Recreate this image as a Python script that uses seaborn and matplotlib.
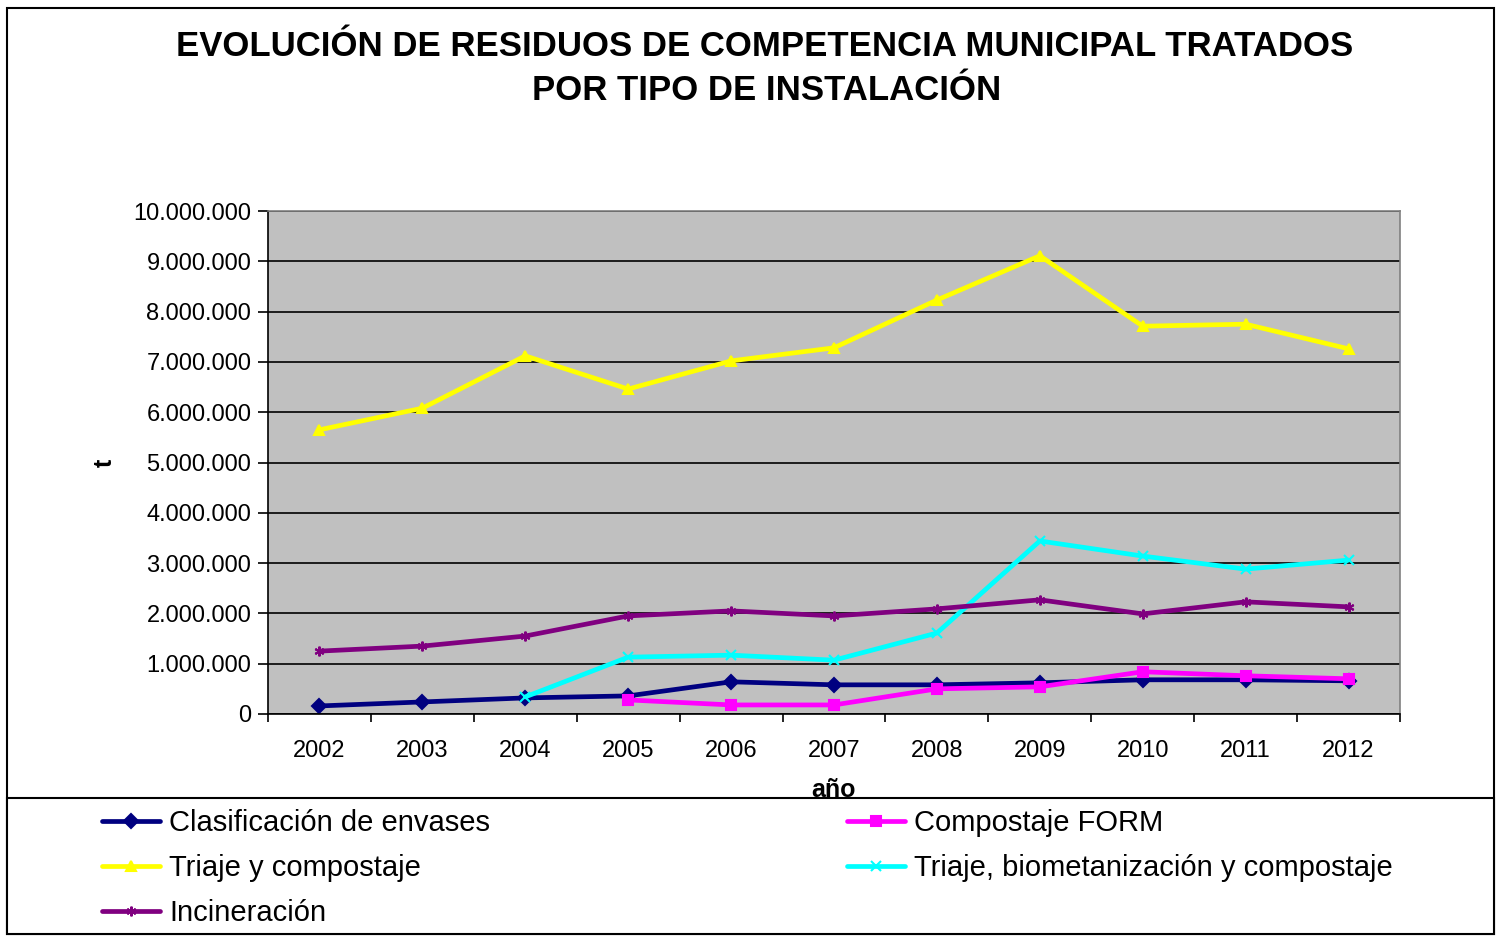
# Evolution of municipal waste treated by facility type
import matplotlib
matplotlib.use('Agg')
import matplotlib.pyplot as plt
import matplotlib.patches as patches
from matplotlib.ticker import FuncFormatter, FixedLocator
import pandas as pd
import seaborn as sns
import numpy as np

# data (tonnes)
years = [2002, 2003, 2004, 2005, 2006, 2007, 2008, 2009, 2010, 2011, 2012]
clasificacion = [160000, 240000, 320000, 360000, 640000, 580000, 580000, 620000, 680000, 680000, 660000]
compostaje_form = [None, None, None, 280000, 180000, 180000, 500000, 540000, 840000, 760000, 700000]
triaje_compostaje = [5650000, 6080000, 7120000, 6460000, 7020000, 7280000, 8230000, 9110000, 7710000, 7750000, 7260000]
triaje_biomet = [None, None, 340000, 1130000, 1170000, 1070000, 1610000, 3440000, 3140000, 2880000, 3060000]
incineracion = [1250000, 1350000, 1550000, 1950000, 2050000, 1950000, 2090000, 2270000, 1990000, 2230000, 2130000]

series_names = ['Clasificación de envases', 'Compostaje FORM', 'Triaje y compostaje',
                'Triaje, biometanización y compostaje', 'Incineración']
series_values = [clasificacion, compostaje_form, triaje_compostaje, triaje_biomet, incineracion]
palette = {'Clasificación de envases': '#000080',
           'Compostaje FORM': '#FF00FF',
           'Triaje y compostaje': '#FFFF00',
           'Triaje, biometanización y compostaje': '#00FFFF',
           'Incineración': '#800080'}
markers = {'Clasificación de envases': 'D',
           'Compostaje FORM': 's',
           'Triaje y compostaje': '^',
           'Triaje, biometanización y compostaje': 'x',
           'Incineración': (6, 2, 0)}

# long-form table, categorical x position from year index
rows = []
for name, vals in zip(series_names, series_values):
    for i, (yr, v) in enumerate(zip(years, vals)):
        if v is not None:
            rows.append({'pos': i, 'año': yr, 'Serie': name, 't': v})
df = pd.DataFrame(rows)

sns.set_style('white')
plt.rcParams['font.family'] = ['Liberation Sans', 'DejaVu Sans']
plt.rcParams['text.color'] = 'black'
plt.rcParams['axes.labelcolor'] = 'black'
plt.rcParams['xtick.color'] = 'black'
plt.rcParams['ytick.color'] = 'black'

fig = plt.figure(figsize=(15.05, 9.36), dpi=100)
ax = fig.add_axes([268 / 1505, 1 - 714 / 936, (1400 - 268) / 1505, (714 - 211) / 936])
ax.set_facecolor('#C0C0C0')

for name in series_names:
    sub = df[df['Serie'] == name]
    sns.lineplot(data=sub, x='pos', y='t', color=palette[name], marker=markers[name],
                 markersize=7, markeredgecolor=palette[name], markeredgewidth=1.5,
                 linewidth=3.4, ax=ax, label=name, legend=False, errorbar=None)

ax.set_xlim(-0.5, len(years) - 0.5)
ax.set_ylim(0, 10000000)
ax.set_yticks(np.arange(0, 10000001, 1000000))
ax.yaxis.set_major_formatter(FuncFormatter(lambda v, p: f'{int(v):,}'.replace(',', '.')))
ax.grid(axis='y', color='black', linewidth=1.2)
ax.set_axisbelow(True)

# category axis: ticks between categories, labels at centres
ax.xaxis.set_major_locator(FixedLocator(np.arange(-0.5, len(years), 1)))
ax.xaxis.set_minor_locator(FixedLocator(np.arange(0, len(years))))
ax.set_xticklabels([])
ax.set_xticklabels([str(y) for y in years], minor=True)
ax.tick_params(axis='x', which='major', length=6, width=1.2, direction='out', bottom=True)
ax.tick_params(axis='x', which='minor', length=0, labelsize=17, pad=19)
ax.tick_params(axis='y', length=7, width=1.2, direction='out', left=True, labelsize=17, pad=5)

for s in ['left', 'bottom']:
    ax.spines[s].set_color('black')
    ax.spines[s].set_linewidth(1.2)
for s in ['top', 'right']:
    ax.spines[s].set_color('#808080')
    ax.spines[s].set_linewidth(1.2)

ax.set_xlabel('año', fontsize=18, fontweight='bold')
ax.xaxis.set_label_coords(0.5, 1 - (790 - 211) / (714 - 211), transform=ax.transAxes)
ax.xaxis.label.set_va('center')
ax.set_ylabel('t', fontsize=18, fontweight='bold')
ax.yaxis.set_label_coords((105 - 268) / (1400 - 268), 0.5)
ax.yaxis.label.set_va('center')

fig.text(765 / 1505, 1 - 47 / 936, 'EVOLUCIÓN DE RESIDUOS DE COMPETENCIA MUNICIPAL TRATADOS',
         ha='center', va='center', fontsize=25, fontweight='bold')
fig.text(767 / 1505, 1 - 90 / 936, 'POR TIPO DE INSTALACIÓN',
         ha='center', va='center', fontsize=25, fontweight='bold')

# outer chart border and legend box
fig.patches.append(patches.Rectangle((7 / 1505, 1 - 934 / 936), 1487 / 1505, 926 / 936,
                                     transform=fig.transFigure, fill=False,
                                     edgecolor='black', linewidth=1.5))
fig.patches.append(patches.Rectangle((7 / 1505, 1 - 934 / 936), 1487 / 1505, 136 / 936,
                                     transform=fig.transFigure, fill=True, facecolor='white',
                                     edgecolor='black', linewidth=1.5, zorder=5))

handles, labels = ax.get_legend_handles_labels()
hmap = dict(zip(labels, handles))
left_col = ['Clasificación de envases', 'Triaje y compostaje', 'Incineración']
right_col = ['Compostaje FORM', 'Triaje, biometanización y compostaje']
for col, xpos in [(left_col, 102 / 1505), (right_col, 847 / 1505)]:
    leg = fig.legend([hmap[n] for n in col], col, loc='upper left',
                     bbox_to_anchor=(xpos, 1 - 809 / 936), frameon=False,
                     prop={'size': 21}, handlelength=2.0,
                     handletextpad=0.3, labelspacing=0.58, borderpad=0, borderaxespad=0)
    leg.set_zorder(6)

fig.savefig('out.png', dpi=100)
